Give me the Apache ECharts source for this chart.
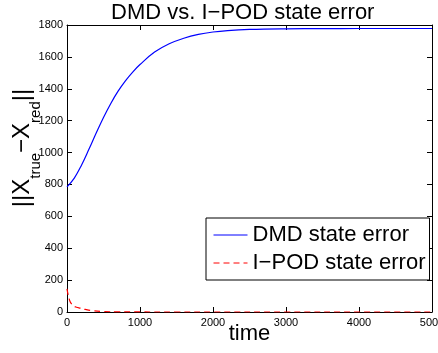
<!DOCTYPE html>
<html><head><meta charset="utf-8">
<script src="https://cdn.jsdelivr.net/npm/echarts@6/dist/echarts.min.js"></script>
<style>html,body{margin:0;padding:0;background:#fff}#c{width:438px;height:353px}</style>
</head><body><div id="c"></div>
<script>
const FONT = 'Liberation Sans, Arial, Helvetica, sans-serif';
const titleText = 'DMD vs. I\u2212POD state error';
const seriesNames = ['DMD state error', 'I\u2212POD state error'];
const xTicks = [0, 1000, 2000, 3000, 4000, 5000];
const yTicks = [0, 200, 400, 600, 800, 1000, 1200, 1400, 1600, 1800];
const dmdTime  = [0, 100, 200, 300, 400, 500, 600, 700, 800, 900, 1000, 1200, 1400, 1600, 1800, 2000, 2200, 2500, 3000, 3500, 4000, 4500, 5000];
const dmdError = [785, 840, 922, 1020, 1122, 1220, 1308, 1385, 1450, 1505, 1552, 1630, 1682, 1717, 1741, 1756, 1765, 1772, 1776, 1777, 1778, 1778, 1778];
const podTime  = [0, 10, 25, 40, 60, 90, 130, 180, 250, 350, 500, 700, 1000, 1500, 2000, 3000, 4000, 5000];
const podError = [145, 120, 90, 68, 52, 38, 30, 24, 16, 8, 3, 1, 0.3, 0, 0, 0, 0, 0];

const chart = echarts.init(document.getElementById('c'), null, {renderer: 'canvas'});
const axisCommon = {
  axisLine: {show: true, onZero: false, lineStyle: {color: '#000', width: 1}},
  axisTick: {show: true, inside: true, length: 5, lineStyle: {color: '#000'}},
  splitLine: {show: false}
};
const plain = v => String(v);
chart.setOption({
  animation: false,
  backgroundColor: '#fff',
  textStyle: {fontFamily: FONT},
  title: {text: titleText, left: 111, top: 2, padding: 0,
    textStyle: {fontFamily: FONT, fontSize: 22, fontWeight: 'normal', color: '#000'}},
  grid: {left: 67, right: 6, top: 25, bottom: 41, containLabel: false, outerBoundsMode: 'none'},
  legend: {
    orient: 'vertical', left: 206, top: 218, padding: [6, 4, 6, 7],
    itemWidth: 34, itemHeight: 14, itemGap: 6, itemTextGap: 3,
    itemStyle: {opacity: 0},
    lineStyle: {width: 1},
    backgroundColor: '#fff', borderColor: '#000', borderWidth: 1, borderRadius: 0,
    textStyle: {fontFamily: FONT, fontSize: 22, color: '#000'},
    data: seriesNames
  },
  xAxis: [
    Object.assign({type: 'value', position: 'bottom', min: xTicks[0], max: xTicks[xTicks.length-1],
      interval: xTicks[1]-xTicks[0],
      name: 'time', nameLocation: 'middle', nameGap: 11, nameMoveOverlap: false,
      nameTextStyle: {fontFamily: FONT, fontSize: 22, color: '#000'},
      axisLabel: {fontFamily: FONT, fontSize: 11, color: '#000', margin: 5, showMaxLabel: true, hideOverlap: false, formatter: plain}}, axisCommon),
    Object.assign({type: 'value', position: 'top', min: xTicks[0], max: xTicks[xTicks.length-1],
      interval: xTicks[1]-xTicks[0], axisLabel: {show: false}}, axisCommon)
  ],
  yAxis: [
    Object.assign({type: 'value', position: 'left', min: yTicks[0], max: yTicks[yTicks.length-1],
      interval: yTicks[1]-yTicks[0],
      axisLabel: {fontFamily: FONT, fontSize: 11, color: '#000', margin: 4, formatter: plain}}, axisCommon),
    Object.assign({type: 'value', position: 'right', min: yTicks[0], max: yTicks[yTicks.length-1],
      interval: yTicks[1]-yTicks[0], axisLabel: {show: false}}, axisCommon)
  ],
  graphic: [{
    type: 'text', x: 22, y: 148, rotation: Math.PI / 2,
    style: {
      text: '{n|||X}{s|true}{n|\u2212X}{s|red}{n|||}',
      align: 'center', verticalAlign: 'middle', fill: '#000',
      rich: {
        n: {fontFamily: FONT, fontSize: 24, fill: '#000'},
        s: {fontFamily: FONT, fontSize: 15, fill: '#000', padding: [27, 0, 0, 0]}
      }
    }
  }],
  series: [
    {name: seriesNames[0], type: 'line', smooth: 0.4, symbol: 'none', showSymbol: false,
      color: '#0000ff', lineStyle: {color: '#0000ff', width: 1.2},
      data: dmdTime.map((t, i) => [t, dmdError[i]])},
    {name: seriesNames[1], type: 'line', smooth: 0.4, symbol: 'none', showSymbol: false,
      color: '#ff0000', lineStyle: {color: '#ff0000', width: 1.2, type: [6, 4]},
      data: podTime.map((t, i) => [t, podError[i]])}
  ]
});
</script>
</body></html>
